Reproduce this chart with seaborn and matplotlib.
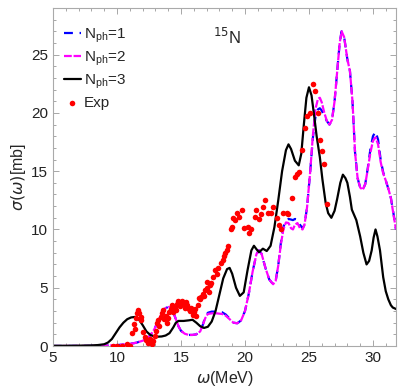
import numpy as np
import pandas as pd
import matplotlib
matplotlib.use("Agg")
import matplotlib.pyplot as plt
from matplotlib.ticker import MultipleLocator
import seaborn as sns

# N_ph=3 (black)
e3 = [5.0, 6.0, 7.0, 8.0, 8.5, 9.0, 9.3, 9.6, 9.9, 10.2, 10.5, 10.8, 11.1, 11.45, 11.7,
      12.0, 12.3, 12.6, 12.9, 13.2, 13.5, 13.8, 14.1, 14.4, 14.6, 14.8, 15.2, 15.6, 15.9,
      16.2, 16.5, 16.8, 17.1, 17.4, 17.7, 18.0, 18.3, 18.6, 18.8, 19.0, 19.3, 19.6, 19.9,
      20.2, 20.5, 20.7, 20.9, 21.1, 21.4, 21.7, 22.0, 22.3, 22.6, 22.9, 23.2, 23.4, 23.6,
      23.9, 24.2, 24.4, 24.6, 24.8, 25.0, 25.2, 25.4, 25.6, 25.85, 26.05, 26.3, 26.5,
      26.75, 27.0, 27.2, 27.45, 27.65, 27.85, 28.0, 28.2, 28.35, 28.7, 29.0, 29.25, 29.5,
      29.7, 29.9, 30.05, 30.2, 30.35, 30.55, 30.8, 31.0, 31.2, 31.4, 31.55, 31.85]
s3 = [0.02, 0.02, 0.03, 0.05, 0.08, 0.15, 0.3, 0.6, 1.1, 1.6, 2.0, 2.3, 2.45, 2.5, 2.3,
      1.8, 1.25, 0.95, 0.82, 0.8, 0.82, 0.9, 1.1, 1.6, 2.0, 2.15, 2.15, 2.2, 2.25,
      2.0, 1.7, 1.55, 1.65, 2.1, 3.0, 4.4, 5.8, 6.6, 6.7, 6.2, 5.0, 4.3, 4.6,
      6.5, 8.2, 8.6, 8.3, 8.05, 8.35, 8.15, 8.6, 10.2, 12.5, 15.0, 16.8, 17.3, 16.9,
      15.9, 15.5, 16.5, 19.0, 21.3, 22.2, 21.5, 19.8, 18.0, 16.2, 14.3, 12.3, 11.4,
      11.0, 11.6, 12.6, 14.0, 14.7, 14.4, 14.0, 12.8, 11.7, 10.8, 9.4, 8.0, 7.0,
      7.3, 8.2, 9.3, 10.0, 9.4, 8.2, 5.9, 4.7, 4.0, 3.5, 3.3, 3.15]

# N_ph=2 (magenta)
e2 = [5.0, 8.0, 9.0, 10.0, 10.5, 11.0, 11.5, 12.0, 12.3, 12.6, 12.9, 13.2, 13.5, 13.8,
      14.0, 14.2, 14.4, 14.6, 14.8, 15.0, 15.3, 15.6, 15.9, 16.2, 16.5, 16.7, 16.9, 17.1,
      17.4, 17.8, 18.2, 18.5, 18.8, 19.1, 19.4, 19.7, 20.0, 20.3, 20.6, 20.9, 21.1, 21.3,
      21.6, 21.9, 22.2, 22.4, 22.6, 22.8, 23.0, 23.2, 23.4, 23.6, 23.75, 23.9, 24.1, 24.3,
      24.5, 24.65, 24.85, 25.1, 25.3, 25.5, 25.7, 25.85, 26.0, 26.2, 26.4, 26.6, 26.8,
      27.0, 27.2, 27.4, 27.55, 27.75, 28.0, 28.2, 28.4, 28.6, 28.8, 29.0, 29.2, 29.4,
      29.6, 29.8, 30.0, 30.2, 30.4, 30.6, 30.8, 31.0, 31.2, 31.4, 31.6, 31.8]
s2 = [0.0, 0.01, 0.03, 0.08, 0.12, 0.18, 0.28, 0.45, 0.6, 0.9, 1.4, 2.1, 2.8, 3.25,
      3.35, 3.3, 2.9, 2.3, 1.7, 1.3, 1.05, 0.95, 0.95, 1.0, 1.25, 1.8, 2.4, 2.75,
      2.8, 2.8, 2.75, 2.6, 2.3, 2.0, 1.95, 2.2, 3.0, 4.5, 6.4, 7.9, 8.2, 7.9,
      6.7, 5.7, 5.3, 5.6, 6.9, 8.7, 10.0, 10.6, 10.55, 10.1, 10.0, 10.4, 10.55, 10.1,
      10.0, 10.4, 11.9, 15.0, 18.0, 20.3, 21.2, 21.3, 20.9, 20.0, 19.3, 19.0, 19.4,
      21.0, 23.5, 26.0, 27.0, 26.5, 24.6, 23.6, 21.0, 16.6, 14.4, 13.6, 13.4, 13.9,
      15.2, 16.6, 17.6, 17.9, 17.3, 15.8, 14.8, 14.2, 13.5, 12.7, 11.3, 10.0]

# N_ph=1 (blue)
e1 = [5.0, 8.0, 9.0, 10.0, 10.5, 11.0, 11.5, 12.0, 12.3, 12.6, 12.9, 13.2, 13.5, 13.8,
      14.0, 14.2, 14.4, 14.6, 14.8, 15.0, 15.3, 15.6, 15.9, 16.2, 16.5, 16.7, 16.9, 17.1,
      17.4, 17.8, 18.2, 18.5, 18.8, 19.1, 19.4, 19.7, 20.0, 20.3, 20.6, 20.9, 21.1, 21.3,
      21.6, 21.9, 22.2, 22.4, 22.6, 22.8, 23.0, 23.2, 23.4, 23.6, 23.75, 23.9, 24.1, 24.3,
      24.5, 24.65, 24.85, 25.1, 25.3, 25.5, 25.7, 25.85, 26.0, 26.2, 26.4, 26.6, 26.8,
      27.0, 27.2, 27.4, 27.55, 27.75, 28.0, 28.2, 28.4, 28.6, 28.8, 29.0, 29.2, 29.4,
      29.6, 29.8, 30.0, 30.2, 30.4, 30.6, 30.8, 31.0, 31.2, 31.4, 31.6, 31.8]
s1 = [0.0, 0.01, 0.03, 0.08, 0.12, 0.18, 0.28, 0.45, 0.6, 0.9, 1.4, 2.1, 2.8, 3.25,
      3.35, 3.3, 2.9, 2.3, 1.7, 1.3, 1.05, 0.95, 0.95, 1.0, 1.25, 1.8, 2.5, 2.85,
      2.95, 2.95, 2.9, 2.7, 2.35, 2.0, 1.95, 2.2, 3.0, 4.5, 6.4, 7.9, 8.2, 7.9,
      6.7, 5.7, 5.3, 5.6, 6.9, 8.8, 10.2, 10.8, 10.9, 10.85, 10.8, 10.9, 10.85, 10.4,
      10.1, 10.4, 11.9, 15.0, 17.8, 19.6, 20.3, 20.4, 20.2, 19.7, 19.3, 19.0, 19.4,
      21.0, 23.5, 26.0, 27.0, 26.5, 24.6, 23.6, 21.0, 16.6, 14.4, 13.6, 13.4, 13.9,
      15.3, 16.9, 18.0, 18.4, 17.7, 16.0, 14.9, 14.2, 13.5, 12.7, 11.4, 10.0]

# experiment
ex = [9.7, 10.0, 10.4, 10.8, 11.0, 11.2, 11.35, 11.4, 11.5, 11.6, 11.65, 11.75, 11.85, 11.9,
      12.05, 12.2, 12.3, 12.45, 12.55, 12.65, 12.75, 12.85, 12.95, 13.05, 13.1, 13.2, 13.3,
      13.4, 13.5, 13.6, 13.7, 13.8, 13.9, 14.0, 14.1, 14.2, 14.3, 14.4, 14.5, 14.6, 14.7,
      14.8, 14.9, 15.0, 15.1, 15.2, 15.3, 15.4, 15.5, 15.6, 15.7, 15.8, 15.9, 16.0, 16.1,
      16.2, 16.3, 16.4, 16.5, 16.6, 16.7, 16.8, 16.9, 17.0, 17.05, 17.15, 17.25, 17.35,
      17.5, 17.65, 17.8, 17.9, 18.1, 18.3, 18.4, 18.45, 18.6, 18.7, 18.9, 19.0, 19.1,
      19.2, 19.4, 19.5, 19.8, 19.9, 20.2, 20.3, 20.5, 20.8, 20.9, 21.1, 21.25, 21.4,
      21.6, 21.8, 22.0, 22.2, 22.5, 22.65, 22.8, 23.0, 23.3, 23.4, 23.7, 23.9, 24.05,
      24.2, 24.45, 24.7, 24.85, 25.1, 25.3, 25.5, 25.7, 25.85, 26.0, 26.2, 26.4]
ey = [0.0, 0.0, 0.0, 0.2, 0.0, 1.1, 1.9, 1.5, 2.4, 2.8, 3.1, 2.8, 2.5, 2.2,
      1.2, 0.8, 0.5, 0.3, 0.6, 0.5, 0.2, 0.4, 0.9, 1.3, 2.0, 2.2, 1.7,
      2.5, 2.8, 3.1, 2.3, 2.6, 2.0, 2.4, 2.9, 3.2, 3.5, 2.9, 3.3, 3.1, 3.6,
      3.9, 3.4, 3.7, 3.9, 3.6, 3.3, 3.8, 3.5, 3.2, 3.0, 3.3, 2.7, 2.9, 3.2,
      2.6, 3.5, 4.1, 4.0, 4.2, 4.5, 4.3, 4.8, 5.0, 5.5, 4.6, 5.2, 5.4,
      5.9, 6.5, 6.2, 6.7, 7.1, 7.4, 7.7, 8.0, 8.2, 8.6, 10.0, 10.2, 11.0,
      10.8, 11.4, 11.1, 11.7, 10.1, 10.2, 9.7, 10.0, 11.1, 11.7, 10.9, 11.3, 11.9,
      12.5, 11.4, 11.4, 11.9, 11.0, 10.4, 10.0, 11.4, 11.4, 11.3, 12.7, 14.5, 14.8,
      14.9, 16.8, 18.7, 19.7, 20.0, 22.5, 21.9, 20.0, 17.7, 16.7, 15.6, 12.2]

sns.set_style("ticks")
plt.rcParams['font.family'] = ['Liberation Sans', 'DejaVu Sans']
plt.rcParams['mathtext.fontset'] = 'dejavusans'

fig = plt.figure(figsize=(4.15, 3.91), dpi=100)
ax = fig.add_axes([53/415, 45/391, 343/415, 338/391])

sns.lineplot(x=e1, y=s1, ax=ax, color='blue', lw=1.6, sort=False,
             estimator=None, label=r'N$_\mathregular{ph}$=1')
ax.lines[-1].set_dashes([4, 3])
sns.lineplot(x=e2, y=s2, ax=ax, color='magenta', lw=1.6, sort=False,
             estimator=None, label=r'N$_\mathregular{ph}$=2')
ax.lines[-1].set_dashes([3.5, 0.8])
sns.lineplot(x=e3, y=s3, ax=ax, color='black', lw=1.6, sort=False,
             estimator=None, label=r'N$_\mathregular{ph}$=3')
sns.scatterplot(x=ex, y=ey, ax=ax, color='red', s=16, linewidth=0, label='Exp', zorder=5)

ax.set_xlim(5, 31.8)
ax.set_ylim(0, 29)
ax.xaxis.set_major_locator(MultipleLocator(5))
ax.xaxis.set_minor_locator(MultipleLocator(1))
ax.yaxis.set_major_locator(MultipleLocator(5))
ax.yaxis.set_minor_locator(MultipleLocator(1))
ax.tick_params(which='both', direction='in', top=True, right=True, colors='#999999',
               labelcolor='#222222', labelsize=11)
ax.tick_params(which='major', length=4, width=0.6)
ax.tick_params(which='minor', length=2.5, width=0.6)
for sp in ax.spines.values():
    sp.set_color('#aaaaaa')
    sp.set_linewidth(0.8)

ax.set_xlabel(r'$\omega$(MeV)', fontsize=11.5, labelpad=3)
ax.set_ylabel(r'$\sigma(\omega)$[mb]', fontsize=11.5, labelpad=2)

ax.text(0.466, 0.945, r'$^{15}$N', transform=ax.transAxes, fontsize=12, va='top')

leg = ax.legend(loc='upper left', bbox_to_anchor=(0.0, 0.978), frameon=False, fontsize=11,
                handlelength=1.15, handletextpad=0.15, labelspacing=0.3,
                borderaxespad=0.3, borderpad=0.4)

fig.savefig('out.png', dpi=100)
